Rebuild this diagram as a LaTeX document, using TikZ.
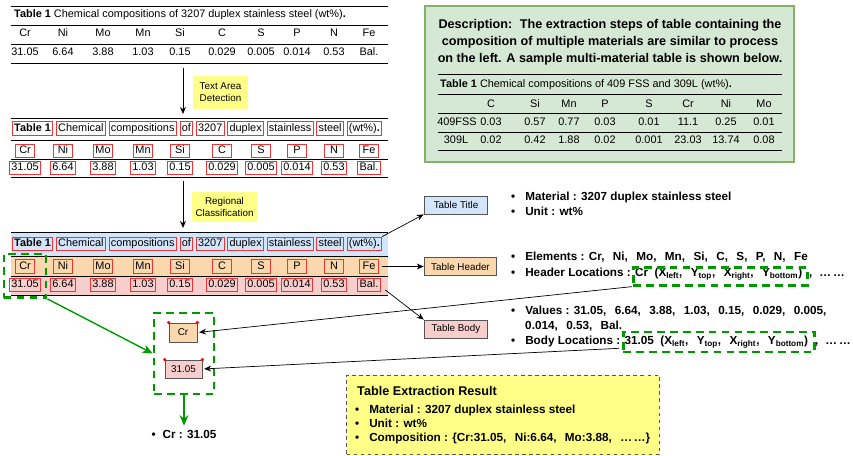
\documentclass[tikz,border=0pt]{standalone}
\usepackage{fontspec}
\setmainfont{Liberation Sans}
\usetikzlibrary{arrows.meta,positioning,fit}

\definecolor{boxred}{HTML}{EE3535}
\definecolor{titleblue}{HTML}{D2E5FA}
\definecolor{headorange}{HTML}{FAD7AC}
\definecolor{bodypink}{HTML}{F8CECC}
\definecolor{notegreen}{HTML}{D5E8D4}
\definecolor{noteedge}{HTML}{82B366}
\definecolor{markgreen}{HTML}{009900}
\definecolor{labelyellow}{HTML}{FFFF88}
\definecolor{edgegray}{HTML}{555555}

\newcommand{\tabfont}{\fontsize{9.3}{10}\selectfont}
\newcommand{\labfont}{\fontsize{8.4}{10.4}\selectfont}
\newcommand{\itemfont}{\fontsize{10}{12}\selectfont\bfseries}
\newcommand{\notefont}{\fontsize{10.8}{14.5}\selectfont\bfseries}
\newcommand{\wcomma}{,\hspace{0.72em}}
\newcommand{\bul}{\makebox[12pt][l]{\textbullet}}

\tikzset{
  cell/.style={font=\tabfont, inner sep=0pt, text height=6.8pt, text depth=1.9pt},
  word/.style={draw=boxred, line width=0.8pt, font=\tabfont, inner xsep=1.5pt, inner ysep=1.5pt,
    text height=6.8pt, text depth=1.9pt},
  hcell/.style={word, minimum width=16pt},
  rulel/.style={line width=0.8pt},
  steplabel/.style={fill=labelyellow, font=\labfont, align=center, inner sep=2pt},
  partlabel/.style={draw=edgegray, line width=0.7pt, font=\labfont, inner sep=2pt},
  greenbox/.style={draw=markgreen, line width=2.3pt, dash pattern=on 6.5pt off 4.5pt, inner sep=0pt},
  link/.style={-{Stealth[length=6pt,width=5pt]}, line width=0.6pt},
  greenlink/.style={-{Stealth[length=9pt,width=7.5pt]}, draw=markgreen, line width=1.2pt},
  item/.style={font=\itemfont, anchor=west, inner sep=0pt, text height=7pt, text depth=2pt},
  dot/.style={circle, fill=red, inner sep=0pt, minimum size=3pt},
  notebox/.style={draw=noteedge, fill=notegreen, line width=1.6pt},
  resultbox/.style={draw=edgegray, fill=labelyellow, line width=1pt, dash pattern=on 3pt off 3pt},
}

\begin{document}
\begin{tikzpicture}[x=0.03cm,y=-0.03cm]
\useasboundingbox (0,0) rectangle (853,456);

\foreach \y in {6,25,44,63} \draw[rulel] (11,\y) -- (388,\y);
\node[cell,anchor=west] (t1title) at (14,15) {\textbf{Table 1} Chemical compositions of 3207 duplex stainless steel (wt\%)\textbf{.}};
\foreach \x/\h/\v [count=\i] in {25/Cr/31.05, 63/Ni/6.64, 103/Mo/3.88, 143/Mn/1.03, 180/Si/0.15,
    222/C/0.029, 261/S/0.005, 297/P/0.014, 334/N/0.53, 369/Fe/Bal.}{
  \node[cell] (t1h\i) at (\x,34) {\h};
  \node[cell] (t1v\i) at (\x,53) {\v};
}

\coordinate (s1top) at (183,68);
\coordinate (s1end) at (183,114);
\draw[link] (s1top) -- (s1end);
\node[steplabel, minimum width=46.8pt, minimum height=28pt] (detect) at (220.5,92.5) {Text Area\\Detection};

\foreach \y in {118,140,159,177} \draw[rulel] (11,\y) -- (388,\y);
\node[word,anchor=west] (t2w1) at (12,128.5) {\textbf{Table 1}};
\foreach \w [count=\i from 2, remember=\i as \j (initially 1)] in {Chemical, compositions, of, 3207,
    duplex, stainless, steel, {(wt\%)\textbf{.}}}
  \node[word,right=2.4pt of t2w\j] (t2w\i) {\w};
\foreach \x/\h/\v [count=\i] in {25/Cr/31.05, 63/Ni/6.64, 103/Mo/3.88, 143/Mn/1.03, 180/Si/0.15,
    222/C/0.029, 261/S/0.005, 297/P/0.014, 334/N/0.53, 369/Fe/Bal.}{
  \node[hcell] (t2h\i) at (\x,151) {\h};
  \node[word] (t2v\i) at (\x,168) {\v};
}

\coordinate (s2top) at (183,181);
\coordinate (s2end) at (183,228);
\draw[link] (s2top) -- (s2end);
\node[steplabel, minimum width=55.3pt, minimum height=25.5pt] (classify) at (224.5,207) {Regional\\Classification};

\fill[titleblue] (11,232) rectangle (388,256);
\fill[headorange] (11,256) rectangle (388,276);
\fill[bodypink] (11,276) rectangle (388,295);
\foreach \y in {232,256,276,295} \draw[rulel] (11,\y) -- (388,\y);
\node[word,anchor=west] (t3w1) at (12,244) {\textbf{Table 1}};
\foreach \w [count=\i from 2, remember=\i as \j (initially 1)] in {Chemical, compositions, of, 3207,
    duplex, stainless, steel, {(wt\%)\textbf{.}}}
  \node[word,right=2.4pt of t3w\j] (t3w\i) {\w};
\foreach \x/\h/\v [count=\i] in {25/Cr/31.05, 63/Ni/6.64, 103/Mo/3.88, 143/Mn/1.03, 180/Si/0.15,
    222/C/0.029, 261/S/0.005, 297/P/0.014, 334/N/0.53, 369/Fe/Bal.}{
  \node[hcell] (t3h\i) at (\x,266.5) {\h};
  \node[word] (t3v\i) at (\x,285) {\v};
}

\node[partlabel, fill=titleblue, minimum width=54.4pt, minimum height=15.3pt] (ttitle) at (456,205) {Table Title};
\node[partlabel, fill=headorange, minimum width=62pt, minimum height=16pt] (theader) at (460.5,266.5) {Table Header};
\node[partlabel, fill=bodypink, minimum width=54.4pt, minimum height=15.3pt] (tbody) at (456,329) {Table Body};
\draw[link] (t3w9.north east) -- (ttitle.south west);
\draw[link] ([xshift=3pt]t3h10.east) -- (theader.west);
\draw[link] ([xshift=4pt,yshift=2pt]t3v10.south east) -- (tbody.north west);

\node[item] (mat) at (511,198) {\bul Material : 3207 duplex stainless steel};
\node[item] (unit) at (511,213) {\bul Unit : wt\%};
\node[item] (elem) at (511,258) {\bul Elements : Cr\wcomma Ni\wcomma Mo\wcomma Mn\wcomma Si\wcomma C\wcomma S\wcomma P\wcomma N\wcomma Fe};
\node[item] (hloctext) at (511,274) {\bul Header Locations : Cr\ \ (X\textsubscript{left}\wcomma Y\textsubscript{top}\wcomma X\textsubscript{right}\wcomma Y\textsubscript{bottom})\hspace{6pt},\hspace{6pt}…\,…};
\node[item] (vals) at (511,312) {\bul Values : 31.05\wcomma 6.64\wcomma 3.88\wcomma 1.03\wcomma 0.15\wcomma 0.029\wcomma 0.005,};
\node[item] (vals2) at (525,327) {0.014\wcomma 0.53\wcomma Bal.};
\node[item] (bloctext) at (511,342) {\bul Body Locations : 31.05\ \ (X\textsubscript{left}\wcomma Y\textsubscript{top}\wcomma X\textsubscript{right}\wcomma Y\textsubscript{bottom})\hspace{6pt},\hspace{6pt}…\,…};
\node[greenbox, minimum width=148.8pt, minimum height=15pt] (hloc) at (720.5,276.5) {};
\node[greenbox, minimum width=163.2pt, minimum height=17pt] (bloc) at (719,342) {};

\node[greenbox, fit=(t3h1)(t3v1), inner sep=4.5pt] (crcol) {};
\node[greenbox, minimum width=51pt, minimum height=68.9pt] (midsel) at (184,353.5) {};
\node[draw=edgegray, fill=headorange, font=\labfont, line width=0.7pt, minimum width=23.8pt, minimum height=16.2pt] (crsel) at (183,332.5) {Cr};
\node[draw=edgegray, fill=bodypink, font=\labfont, line width=0.7pt, minimum width=31.5pt, minimum height=15.3pt] (valsel) at (183.5,369) {31.05};
\foreach \n in {crsel,valsel}{
  \node[dot] (\n-l) at (\n.north west) {};
  \node[dot] (\n-r) at (\n.north east) {};
}
\node[font=\itemfont] (crres) at (184,434) {\textbullet\hspace{6pt}Cr : 31.05};
\draw[greenlink] (crcol.south east) -- (midsel.west);
\draw[greenlink] (midsel.south) -- (crres.north);
\draw[link, shorten >=1.5pt] (hloc.south west) -- (crsel.east);
\draw[link, shorten >=1.5pt] ([shift={(-3,-5)}]bloc.south west) -- (valsel.east);

\node[resultbox, minimum width=266.9pt, minimum height=68pt] (result) at (503,415) {};
\node[font=\fontsize{10.8}{13}\selectfont\bfseries, anchor=west, inner sep=0pt] (restitle) at (357,391) {Table Extraction Result};
\node[item] (resmat) at (355,411) {\bul Material : 3207 duplex stainless steel};
\node[item] (resunit) at (355,425) {\bul Unit : wt\%};
\node[item] (rescomp) at (355,439) {\bul Composition : \{Cr:31.05\wcomma Ni:6.64\wcomma Mo:3.88\wcomma …\,…\}};

\node[notebox, minimum width=315.4pt, minimum height=132.6pt] (note) at (609.5,84) {};
\node[font=\notefont, align=center] (notetext) at (610,42) {Description:\hspace{0.6em}The extraction steps of table containing the\\composition of multiple materials are similar to process\\on the left. A sample multi-material table is shown below.};
\foreach \y in {74,94,113,132,150} \draw[rulel] (438,\y) -- (782,\y);
\node[cell,anchor=west] (s1title) at (440,85) {\textbf{Table 1} Chemical compositions of 409 FSS and 309L (wt\%)\textbf{.}};
\foreach \x/\e/\a/\b [count=\i] in {491/C/0.03/0.02, 535/Si/0.57/0.42, 569/Mn/0.77/1.88, 605/P/0.03/0.02,
    649/S/0.01/0.001, 688/Cr/11.1/23.03, 726/Ni/0.25/13.74, 764/Mo/0.01/0.08}{
  \node[cell] (sh\i) at (\x,105) {\e};
  \node[cell] (sa\i) at (\x,123) {\a};
  \node[cell] (sb\i) at (\x,141) {\b};
}
\node[cell] (sarow) at (457,123) {409FSS};
\node[cell] (sbrow) at (456,141) {309L};
\end{tikzpicture}
\end{document}
